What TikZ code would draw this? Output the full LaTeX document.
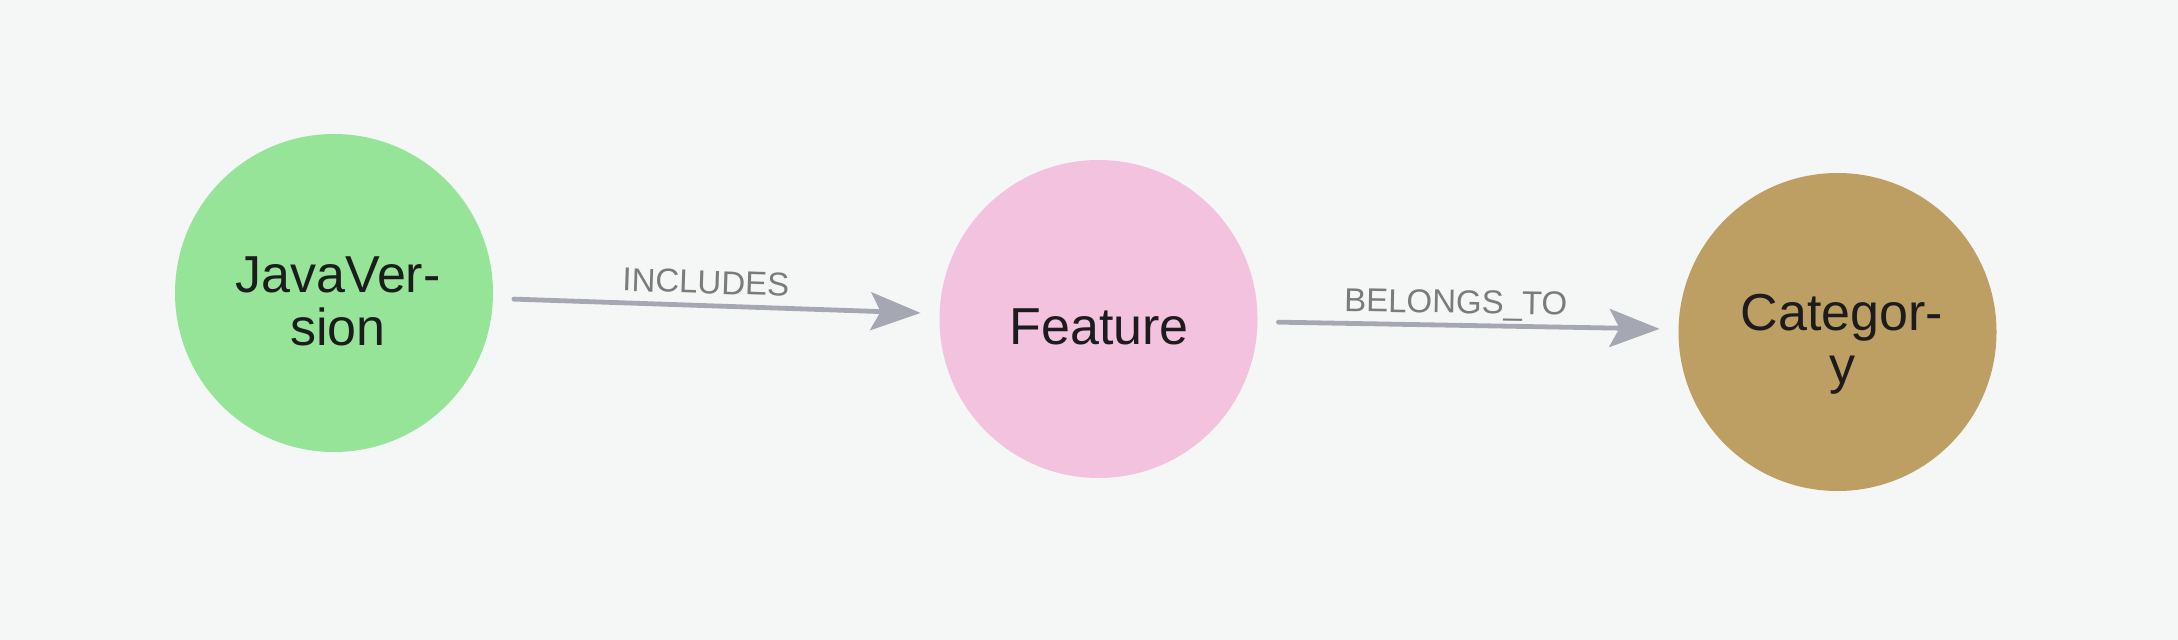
\documentclass[tikz,border=0pt]{standalone}
\usepackage{fontspec}
\setmainfont{Liberation Sans}
\usetikzlibrary{arrows.meta}
\definecolor{bgc}{HTML}{F5F6F6}
\definecolor{cgreen}{HTML}{95E498}
\definecolor{cpink}{HTML}{F3C2DF}
\definecolor{ctan}{HTML}{BE9F63}
\definecolor{edgec}{HTML}{A5A8B3}
\definecolor{lblc}{HTML}{7B7B7B}
\definecolor{txtc}{HTML}{1C1C1E}
\tikzset{
  ent/.style={circle, minimum size=159pt, inner sep=0pt, outer sep=0pt, draw=none},
  enttext/.style={text=txtc, align=center, anchor=base, inner sep=0pt, font=\fontsize{26pt}{26.5pt}\selectfont},
  rel/.style={draw=edgec, line width=2.4pt, line cap=round, shorten <=10.5pt, shorten >=9.5pt,
    -{Stealth[length=25pt, width=19pt, inset=5pt]}},
  rellbl/.style={text=lblc, sloped, anchor=base, yshift=6pt, inner sep=0pt, font=\fontsize{16.5pt}{18pt}\selectfont}
}
\begin{document}
\begin{tikzpicture}[x=0.5pt, y=-0.5pt]
  \fill[bgc] (0,0) rectangle (2178,640);
  \useasboundingbox (0,0) rectangle (2178,640);
  \node[ent, fill=cgreen] (jv) at (334,293) {};
  \node[ent, fill=cpink] (ft) at (1098.5,319) {};
  \node[ent, fill=ctan] (ct) at (1837.5,332) {};
  \node[enttext] (jvt) at (338,346) {JavaVer-\\sion};
  \node[enttext] (ftt) at (1099,345) {Feature};
  \node[enttext] (ctt) at (1842,384) {Categor-\\y};
  \draw[rel] (jv) -- node[rellbl, pos=0.475] {INCLUDES} (ft);
  \draw[rel] (ft) -- node[rellbl, pos=0.47] {BELONGS\_TO} (ct);
\end{tikzpicture}
\end{document}
